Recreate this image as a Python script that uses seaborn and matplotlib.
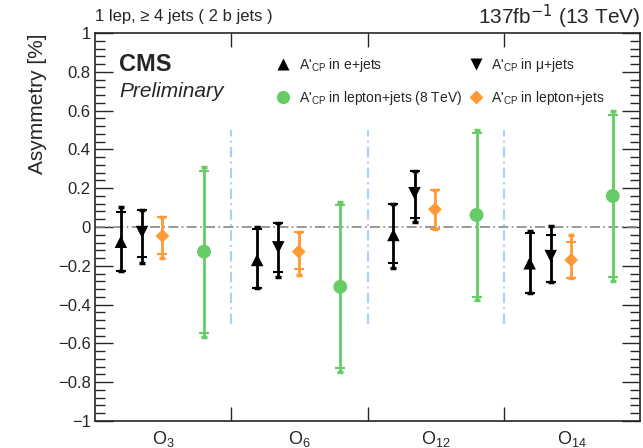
import numpy as np
import pandas as pd
import seaborn as sns
import matplotlib
matplotlib.use("Agg")
import matplotlib.pyplot as plt
from matplotlib.lines import Line2D
from matplotlib.ticker import MultipleLocator

sns.set_style("ticks")
plt.rcParams['font.family'] = ['Liberation Sans', 'DejaVu Sans']
plt.rcParams['mathtext.fontset'] = 'custom'
plt.rcParams['mathtext.rm'] = 'Liberation Sans'
plt.rcParams['mathtext.it'] = 'Liberation Sans:italic'
plt.rcParams['mathtext.bf'] = 'Liberation Sans:bold'

# ---- data ----
observables = ["O$_{3}$", "O$_{6}$", "O$_{12}$", "O$_{14}$"]

e_val = [-0.076, -0.170, -0.041, -0.187]
e_hi = [0.105, 0.002, 0.117, -0.021]
e_lo = [-0.227, -0.316, -0.210, -0.339]
e_stat_hi = [0.079, -0.010, 0.117, -0.033]
e_stat_lo = [-0.227, -0.316, -0.188, -0.339]

mu_val = [-0.026, -0.105, 0.174, -0.150]
mu_hi = [0.088, 0.019, 0.289, 0.005]
mu_lo = [-0.184, -0.259, 0.027, -0.282]
mu_stat_hi = [0.088, 0.019, 0.289, -0.041]
mu_stat_lo = [-0.153, -0.230, 0.045, -0.282]

lj_val = [-0.046, -0.127, 0.091, -0.170]
lj_hi = [0.053, -0.024, 0.191, -0.041]
lj_lo = [-0.158, -0.247, -0.010, -0.265]
lj_stat_hi = [0.053, -0.024, 0.191, -0.076]
lj_stat_lo = [-0.139, -0.218, -0.010, -0.265]

lj8_val = [-0.127, -0.308, 0.062, 0.160]
lj8_hi = [0.311, 0.130, 0.500, 0.598]
lj8_lo = [-0.565, -0.746, -0.376, -0.278]
lj8_stat_hi = [0.289, 0.113, 0.486, 0.577]
lj8_stat_lo = [-0.548, -0.728, -0.360, -0.256]

# legend order (column-wise fill): e+jets, 8 TeV, mu+jets, lepton+jets
series = [
    ("A'$_{\\mathrm{CP}}$ in e+jets", e_val, e_lo, e_hi, e_stat_lo, e_stat_hi, 0.19, 'black', '^', 9),
    ("A'$_{\\mathrm{CP}}$ in lepton+jets (8 TeV)", lj8_val, lj8_lo, lj8_hi, lj8_stat_lo, lj8_stat_hi, 0.80, '#66cc66', 'o', 10),
    ("A'$_{\\mathrm{CP}}$ in \u03bc+jets", mu_val, mu_lo, mu_hi, mu_stat_lo, mu_stat_hi, 0.345, 'black', 'v', 9),
    ("A'$_{\\mathrm{CP}}$ in lepton+jets", lj_val, lj_lo, lj_hi, lj_stat_lo, lj_stat_hi, 0.495, '#ff9933', 'D', 7),
]

fig = plt.figure(figsize=(6.43, 4.48), dpi=100)
ax = fig.add_axes([95/643, 27/448, 545/643, 388/448])

# zero line and separators
ax.axhline(0, color='#888888', lw=1.2, ls=(0, (6, 2, 1, 2)), zorder=1)
for b in [1, 2, 3]:
    ax.plot([b, b], [-0.5, 0.5], color='#a8d0f8', lw=1.5, ls=(0, (5, 2, 1, 2)), zorder=1)

handles = []
for name, val, lo, hi, slo, shi, off, col, mk, ms in series:
    x = np.arange(4) + off
    val = np.array(val); lo = np.array(lo); hi = np.array(hi)
    slo = np.array(slo); shi = np.array(shi)
    ax.errorbar(x, val, yerr=[val - lo, hi - val], fmt='none', ecolor=col,
                elinewidth=2, capsize=2.5, capthick=2.5, zorder=2)
    ax.plot(x, shi, ls='none', marker='_', ms=7, mew=1.5, color=col, zorder=2)
    ax.plot(x, slo, ls='none', marker='_', ms=7, mew=1.5, color=col, zorder=2)
    df = pd.DataFrame(dict(x=x, y=val))
    sns.scatterplot(data=df, x='x', y='y', marker=mk, color=col, s=ms**2,
                    edgecolor='none', ax=ax, zorder=3, legend=False)
    handles.append(Line2D([], [], ls='none', marker=mk, color=col, ms=ms * 0.95,
                          mec='none', label=name))

ax.set_xlim(0, 4)
ax.set_ylim(-1, 1)
ax.set_xticks([1, 2, 3])
ax.set_xticklabels([])
ax.set_xticks([0.5, 1.5, 2.5, 3.5], minor=True)
ax.set_xticklabels(observables, minor=True, fontsize=13)
ax.tick_params(axis='x', which='minor', length=0, pad=6)
ax.tick_params(axis='x', which='major', direction='in', length=10, top=True, width=1)
yt = np.round(np.arange(-1, 1.01, 0.2), 1)
ax.set_yticks(yt)
ax.yaxis.set_minor_locator(MultipleLocator(0.04))
ax.set_yticklabels(['\u22121' if v == -1 else ('1' if v == 1 else ('0' if v == 0 else f"{v:.1f}".replace('-', '\u2212'))) for v in yt], fontsize=12)
ax.tick_params(axis='y', which='major', direction='in', length=13, right=True, width=1, pad=3)
ax.tick_params(axis='y', which='minor', direction='in', length=7, right=True, width=1)
for s in ax.spines.values():
    s.set_linewidth(1.2)

ax.set_xlabel('')
ax.set_ylabel('Asymmetry [%]', fontsize=15, loc='top', labelpad=8)

leg = ax.legend(handles=handles, ncol=2, loc='upper left', bbox_to_anchor=(0.310, 0.974),
                frameon=False, fontsize=10, handletextpad=0.6, columnspacing=0.5,
                labelspacing=1.1, handlelength=1.0)

ax.text(0.044, 0.92, 'CMS', transform=ax.transAxes, fontsize=17, fontweight='bold', va='center')
ax.text(0.044, 0.848, 'Preliminary', transform=ax.transAxes, fontsize=15, style='italic', va='center')

fig.text(95/643, 1 - 17/448, '1 lep, \u2265 4 jets ( 2 b jets )', fontsize=12, va='center', ha='left')
fig.text(640/643, 1 - 17/448, '137fb$^{\\mathsf{-1}}$ (13 TeV)', fontsize=15, va='center', ha='right')

fig.savefig('out.png', dpi=100)
